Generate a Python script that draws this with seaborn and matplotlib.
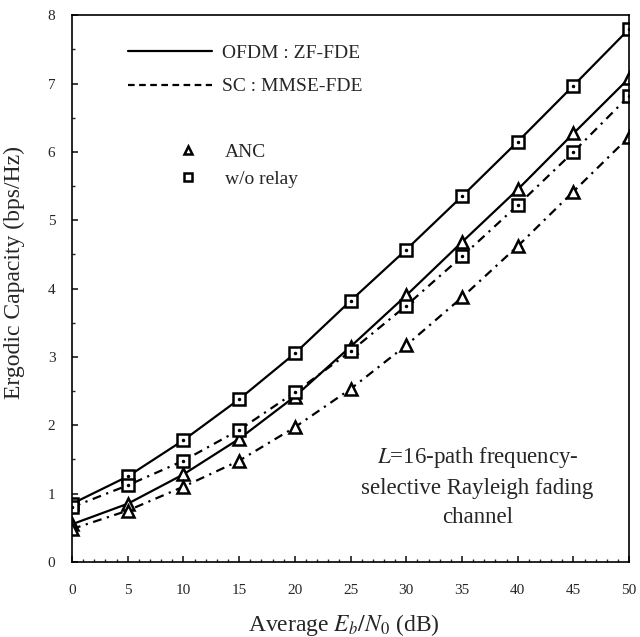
import matplotlib
matplotlib.use("Agg")
import matplotlib.pyplot as plt
from matplotlib.lines import Line2D
from matplotlib.ticker import MultipleLocator
import seaborn as sns
import pandas as pd

snr = [0, 5, 10, 15, 20, 25, 30, 35, 40, 45, 50]
ofdm_norelay = [0.85, 1.25, 1.78, 2.38, 3.05, 3.82, 4.57, 5.35, 6.15, 6.97, 7.80]
ofdm_anc = [0.55, 0.85, 1.28, 1.80, 2.42, 3.15, 3.90, 4.68, 5.45, 6.27, 7.08]
sc_norelay = [0.80, 1.12, 1.48, 1.93, 2.48, 3.08, 3.75, 4.47, 5.22, 6.00, 6.82]
sc_anc = [0.48, 0.75, 1.10, 1.48, 1.97, 2.53, 3.17, 3.87, 4.62, 5.42, 6.22]

sns.set_theme(style="white")
plt.rcParams["font.family"] = ["Liberation Serif", "DejaVu Serif"]
plt.rcParams["mathtext.fontset"] = "stix"

fig = plt.figure(figsize=(6.4, 6.37), dpi=100)
ax = fig.add_axes([0.1125, 0.118, 0.8705, 0.858])

dash = (0, (4, 2.5, 1, 2.5))
series = [
    (ofdm_norelay, "-", "s"),
    (ofdm_anc, "-", "^"),
    (sc_norelay, dash, "s"),
    (sc_anc, dash, "^"),
]
for vals, ls, mk in series:
    df = pd.DataFrame({"snr": snr, "cap": vals})
    sns.lineplot(data=df, x="snr", y="cap", ax=ax, color="black", linewidth=1.6,
                 linestyle=ls, marker=mk, markersize=8, markerfacecolor="white",
                 markeredgecolor="black", markeredgewidth=1.8)
    if mk == "s":
        ax.plot(snr, vals, linestyle="none", marker=".", markersize=3, color="black")

ax.set_xlim(0, 50)
ax.set_ylim(0, 8)
ax.xaxis.set_major_locator(MultipleLocator(5))
ax.xaxis.set_minor_locator(MultipleLocator(1))
ax.yaxis.set_major_locator(MultipleLocator(1))
ax.yaxis.set_minor_locator(MultipleLocator(0.5))
ax.tick_params(axis="both", which="major", direction="in", length=4, labelsize=11)
ax.tick_params(axis="x", which="major", pad=16)
ax.tick_params(axis="y", which="major", pad=12)
ax.tick_params(axis="both", which="minor", direction="in", length=2)
ax.tick_params(bottom=True, left=True, which="both")
for sp in ax.spines.values():
    sp.set_linestyle((0, (1, 1)))
    sp.set_linewidth(1.2)
    sp.set_color("black")

ax.set_xlabel("Average $E_b/N_0$ (dB)", fontsize=17)
ax.set_ylabel("Ergodic Capacity (bps/Hz)", fontsize=17)
ax.xaxis.set_label_coords(0.487, -0.092)
ax.yaxis.set_label_coords(-0.085, 0.53)

line_handles = [
    Line2D([], [], color="black", lw=1.6, linestyle="-"),
    Line2D([], [], color="black", lw=1.6, linestyle=(0, (3, 2))),
]
leg1 = ax.legend(line_handles, ["OFDM : ZF-FDE", "SC : MMSE-FDE"],
                 loc="center left", bbox_to_anchor=(0.1005, 0.9),
                 frameon=False, fontsize=14, handlelength=4.3, handletextpad=0.55,
                 labelspacing=0.8, borderpad=0, borderaxespad=0)
ax.add_artist(leg1)

marker_handles = [
    Line2D([], [], color="black", linestyle="none", marker="^", markersize=6,
           markerfacecolor="white", markeredgewidth=1.8),
    Line2D([], [], color="black", linestyle="none", marker="s", markersize=6,
           markerfacecolor="white", markeredgewidth=1.8),
]
ax.legend(marker_handles, ["ANC", "w/o relay"],
          loc="center left", bbox_to_anchor=(0.19, 0.725),
          frameon=False, fontsize=14, handlelength=1.0, handletextpad=1.4,
          labelspacing=0.5, borderpad=0, borderaxespad=0)

ax.text(36.4, 1.10, "$L$=16-path frequency-\nselective Rayleigh fading\nchannel",
        ha="center", va="center", fontsize=16.5, linespacing=1.5)

fig.savefig("out.png", dpi=100)
